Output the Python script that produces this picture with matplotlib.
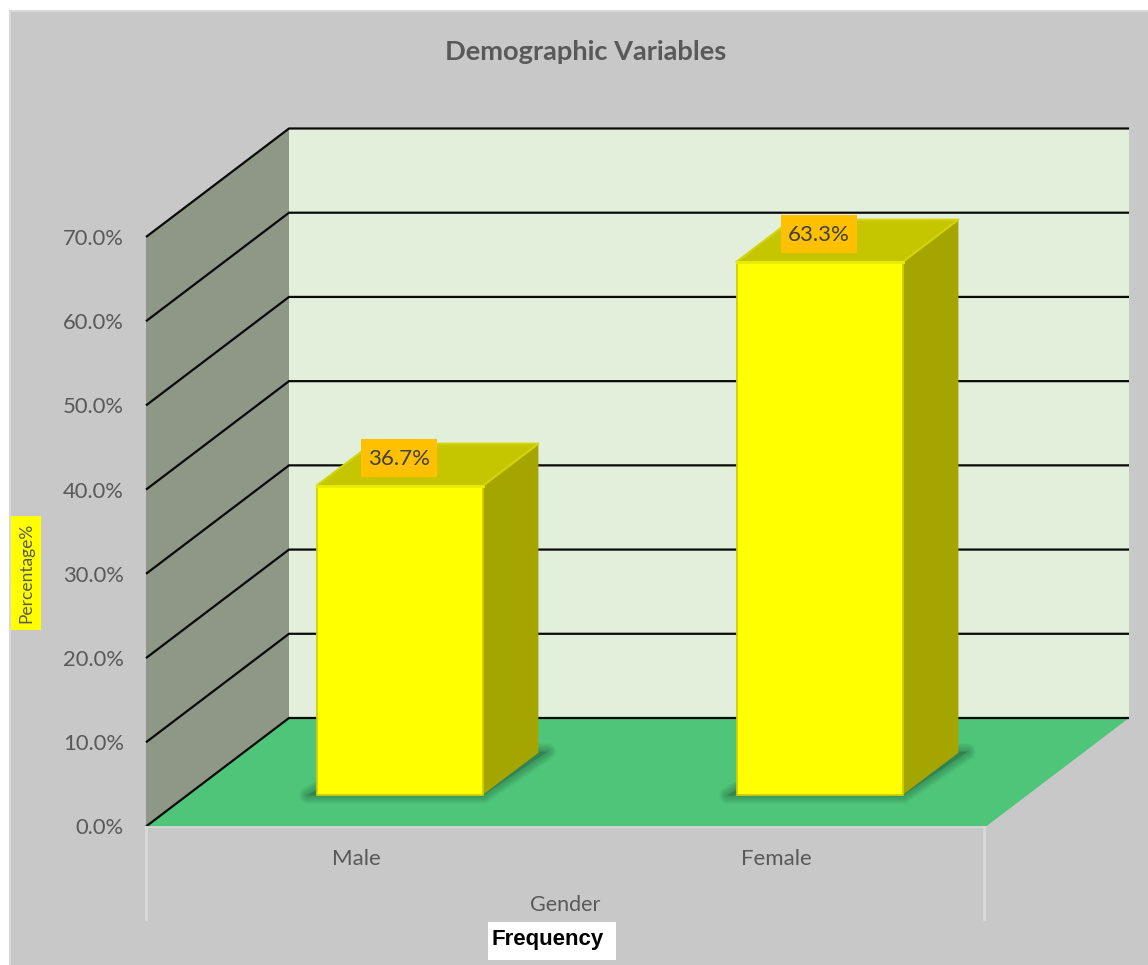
import matplotlib
matplotlib.use("Agg")
import matplotlib.pyplot as plt
from matplotlib.patches import Polygon, Rectangle

# ---- data ----
categories = ["Male", "Female"]
percentages = [36.7, 63.3]
value_labels = ["36.7%", "63.3%"]
y_ticks = [0, 10, 20, 30, 40, 50, 60, 70]
y_tick_labels = ["0.0%", "10.0%", "20.0%", "30.0%", "40.0%", "50.0%", "60.0%", "70.0%"]
title = "Demographic Variables"
x_title = "Gender"
y_title = "Percentage%"
note = "Frequency"

# ---- layout (pixels of the 1148x965 canvas) ----
W, H = 1148, 965
L, R, B, T = 146, 986, 826.5, 237.0
DEPTH_X_PX, DEPTH_Y_PX = 143, 108.5
PX_PER_CAT = (R - L) / 2
PX_PER_PCT = (B - T) / 70
DX = DEPTH_X_PX / PX_PER_CAT
DY = DEPTH_Y_PX / PX_PER_PCT
BAR_HALF = 0.198
BAR_SHIFT = 2 / PX_PER_CAT
D0, D1 = 0.292, 0.680

GREY = "#C8C8C8"
WALL = "#8F9886"
BACK = "#E2EFDA"
FLOOR = "#4EC578"
FRONT = "#FFFF00"
SIDE = "#A5A500"
TOP = "#C6C600"
TXT = "#595959"
FONT = "Lato"


def P(x, y, d=0.0):
    return (x + d * DX, y + d * DY)


def fx(px):
    return (px - L) / (R - L)


def fy(py):
    return (B - py) / (B - T)


fig = plt.figure(figsize=(W / 100, H / 100), dpi=100, facecolor="white")
fig.add_artist(Rectangle((10 / W, -0.02), 1.02, 1.02 - 11 / H, transform=fig.transFigure,
                         facecolor=GREY, edgecolor="#D9D9D9", linewidth=1.5, zorder=-5))
ax = fig.add_axes([L / W, 1 - B / H, (R - L) / W, (B - T) / H])
ax.set_facecolor("none")
ax.set_xlim(-0.5, 1.5)
ax.set_ylim(0, 70)
for s in ax.spines.values():
    s.set_visible(False)


def poly(pts, color, z, **kw):
    ax.add_patch(Polygon(pts, closed=True, facecolor=color, edgecolor="none",
                         clip_on=False, zorder=z, **kw))


xl, xr = -0.5, 1.5
ymax = y_ticks[-1]
# walls and floor
poly([P(xl, 0, 0), P(xl, 0, 1), P(xl, ymax, 1), P(xl, ymax, 0)], WALL, 1)
poly([P(xl, 0, 1), P(xr, 0, 1), P(xr, ymax, 1), P(xl, ymax, 1)], BACK, 1)
poly([P(xl, 0, 0), P(xr, 0, 0), P(xr, 0, 1), P(xl, 0, 1)], FLOOR, 1.5)

# gridlines
for t in y_ticks:
    a, b, c = P(xl, t, 0), P(xl, t, 1), P(xr, t, 1)
    ax.plot([a[0], b[0], c[0]], [a[1], b[1], c[1]], color="#0A0A0A", lw=1.6,
            clip_on=False, zorder=1.6, solid_joinstyle="miter", solid_capstyle="butt")

# floor front edge and axis drop lines
ax.plot([xl, xr], [0, 0], color="#D9D9D9", lw=1.1, clip_on=False, zorder=1.7)
for x in (xl, xr - 1.5 / PX_PER_CAT):
    ax.plot([x, x], [0, -92 / PX_PER_PCT], color="#D9D9D9", lw=2.0, clip_on=False, zorder=1.7)

# bars
for i, (cat, v, lab) in enumerate(zip(categories, percentages, value_labels)):
    c = i + BAR_SHIFT
    x0, x1 = c - BAR_HALF, c + BAR_HALF
    # soft shadow on the floor
    sx = 9 / PX_PER_CAT
    sy = 0.5 / PX_PER_PCT
    shadow = [(x0 - sx + D0 * DX, D0 * DY - sy), (x1 + D0 * DX, D0 * DY - sy),
              (x1 + sx + D1 * DX, D1 * DY + sy * 2), (x0 + sx + D1 * DX, D1 * DY + sy * 2)]
    for lw in (12, 10.5, 9, 7.5, 6, 4.5, 3, 1.5):
        ax.add_patch(Polygon(shadow, closed=True, facecolor="#2A6B46", edgecolor="#2A6B46",
                             lw=lw, alpha=0.07, clip_on=False, zorder=2, joinstyle="round"))
    # faces
    poly([P(x1, 0, D0), P(x1, 0, D1), P(x1, v, D1), P(x1, v, D0)], SIDE, 3)
    poly([P(x0, v, D0), P(x1, v, D0), P(x1, v, D1), P(x0, v, D1)], TOP, 3)
    poly([P(x0, 0, D0), P(x1, 0, D0), P(x1, v, D0), P(x0, v, D0)], FRONT, 3.2)
    # bevelled edges
    fa, fb, fc, fd = P(x0, 0, D0), P(x1, 0, D0), P(x1, v, D0), P(x0, v, D0)
    ax.plot([fd[0], fa[0], fb[0], fc[0]], [fd[1], fa[1], fb[1], fc[1]], color="#CFCF00",
            lw=1.3, clip_on=False, zorder=3.3, solid_capstyle="butt")
    ax.plot([fd[0], fc[0]], [fd[1], fc[1]], color="#EBEB00", lw=2.0, clip_on=False, zorder=3.3)
    g, h = P(x1, v, D1), P(x0, v, D1)
    ax.plot([fd[0], h[0], g[0], fc[0]], [fd[1], h[1], g[1], fc[1]], color="#D4D40C",
            lw=1.5, clip_on=False, zorder=3.25)
    # value label
    lx, ly = P(c - 1 / PX_PER_CAT, v + 28 / PX_PER_PCT, D0)
    ax.add_patch(Rectangle((lx - 38 / PX_PER_CAT, ly - 19 / PX_PER_PCT), 76 / PX_PER_CAT,
                           38 / PX_PER_PCT, facecolor="#FFC000", edgecolor="none",
                           clip_on=False, zorder=4.8))
    ax.text(lx, ly - 1.5 / PX_PER_PCT, lab, ha="center", va="center", fontsize=16, family=FONT,
            color="#404040", zorder=5, clip_on=False)

# axes text
ax.set_yticks(y_ticks, y_tick_labels, fontsize=15.8, family=FONT, color=TXT)
ax.set_xticks(range(len(categories)), categories, fontsize=16, family=FONT, color=TXT)
ax.tick_params(axis="y", length=0, pad=16)
ax.tick_params(axis="x", length=0, pad=16.5)

ax.set_title(title, x=fx(585.5), y=fy(68), fontsize=19.6, fontweight="bold", family=FONT,
             color=TXT, ha="center", va="baseline")
ax.set_xlabel(x_title, fontsize=15.5, family=FONT, color=TXT)
ax.xaxis.set_label_coords(fx(565), fy(905))
ax.xaxis.label.set_va("center")
ax.set_ylabel(y_title, fontsize=12.5, family=FONT, color=TXT,
              bbox=dict(boxstyle="square,pad=0.42", facecolor="#FFFF00", edgecolor="none"))
ax.yaxis.set_label_coords(fx(26), fy(573))
ax.yaxis.label.set_va("center")

# note box under the chart
ax.add_patch(Rectangle((fx(488), fy(960)), 128 / (R - L), 38 / (B - T), transform=ax.transAxes,
                       facecolor="white", edgecolor="none", clip_on=False, zorder=4))
ax.text(fx(492), fy(939), note, transform=ax.transAxes, ha="left", va="center",
        fontsize=16, fontweight="bold", family="Liberation Sans", color="black",
        zorder=5, clip_on=False)

fig.savefig("out.png", dpi=100, facecolor="white")
